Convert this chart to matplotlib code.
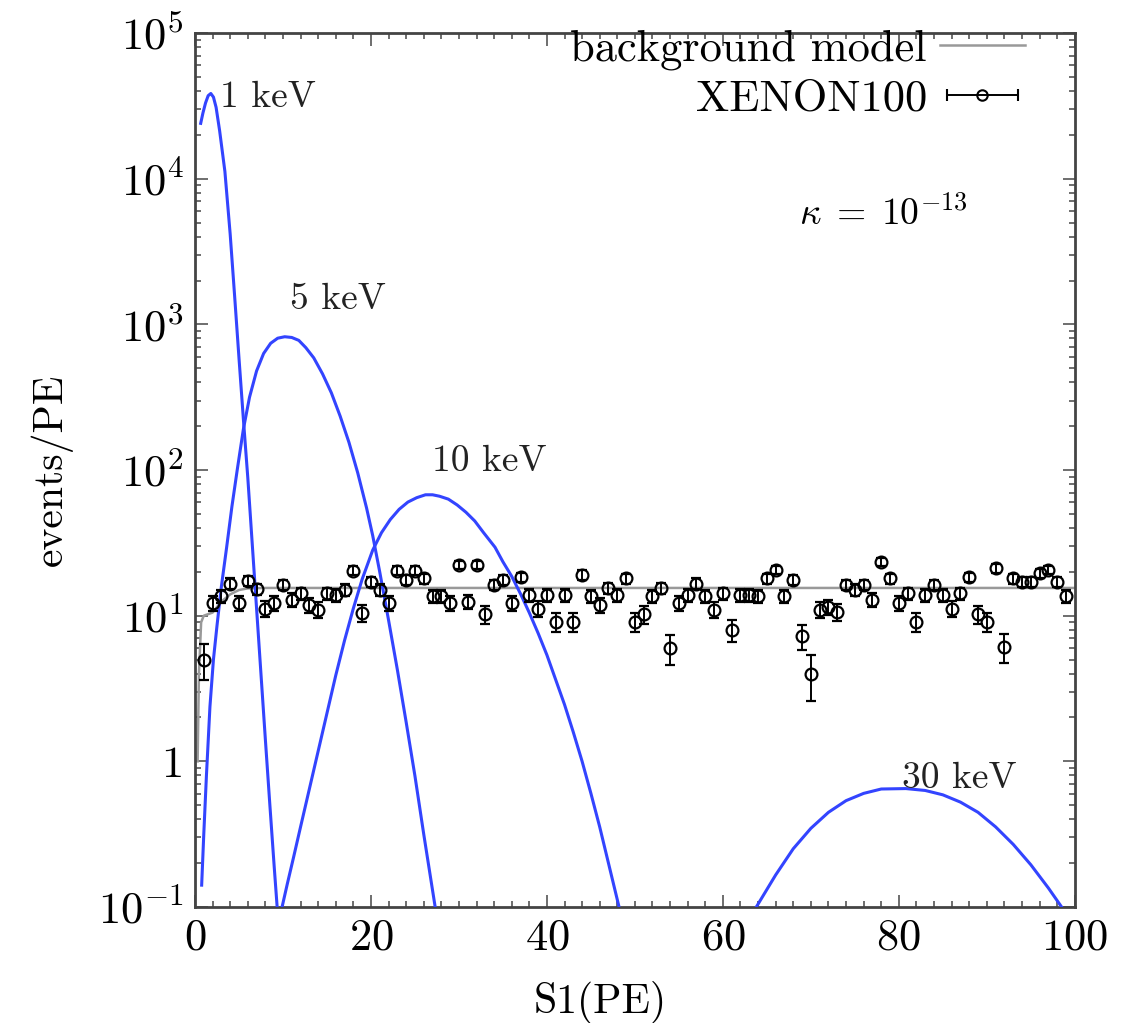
import matplotlib
matplotlib.use("Agg")
import matplotlib.pyplot as plt
import matplotlib.ticker as mticker
from matplotlib.container import ErrorbarContainer
from matplotlib.legend_handler import HandlerErrorbar
import numpy as np

plt.rcParams["font.family"] = "cmr10"
plt.rcParams["mathtext.fontset"] = "cm"
plt.rcParams["axes.formatter.use_mathtext"] = True

# XENON100 data (events/PE per 1 PE bin)
s1_pe = list(range(1, 100))
events = [
    5.0, 12.2, 13.7, 16.6, 12.2, 17.4, 15.2, 11.2, 12.2, 16.3,
    12.9, 14.2, 11.9, 11.0, 14.2, 13.9, 15.1, 20.4, 10.4, 17.1,
    15.1, 12.2, 20.4, 17.7, 20.4, 18.0, 13.7, 13.7, 12.2, 22.4,
    12.5, 22.4, 10.2, 16.3, 17.7, 12.2, 18.3, 13.9, 11.2, 13.9,
    9.1, 13.9, 9.1, 19.1, 13.7, 11.9, 15.4, 13.9, 18.0, 9.1,
    10.2, 13.7, 15.4, 6.0, 12.2, 13.9, 16.6, 13.7, 11.0, 14.2,
    8.0, 13.9, 13.9, 13.7, 18.0, 20.7, 13.7, 17.7, 7.2, 4.0,
    11.0, 11.5, 10.6, 16.3, 15.1, 16.3, 12.9, 23.5, 18.0, 12.2,
    14.2, 9.1, 13.9, 16.3, 13.9, 11.2, 14.2, 18.3, 10.2, 9.1,
    21.1, 6.1, 18.0, 17.1, 17.1, 19.5, 20.7, 17.1, 13.7,
]
events_err = 1.4

# background model
bg_x = [0.3, 0.45, 0.7, 1.0, 2.0, 3.0, 4.0, 5.0, 6.0, 8.0, 100.0]
bg_y = [1.0, 4.0, 9.0, 10.0, 10.5, 12.5, 14.0, 15.0, 15.4, 15.5, 15.5]

# signal spectra (log10 of events/PE)
kev1_x = [0.65, 0.9, 1.2, 1.5, 1.8, 2.1, 2.4, 2.8, 3.4, 4.0, 4.5, 5.0, 5.5,
          6.0, 6.5, 7.0, 7.5, 8.0, 8.5, 9.0, 9.4]
kev1_log = [4.38, 4.45, 4.52, 4.57, 4.585, 4.56, 4.49, 4.33, 4.05, 3.62, 3.2, 2.77, 2.35,
            1.95, 1.5, 1.05, 0.6, 0.15, -0.29, -0.72, -1.05]

kev5_x = [0.76, 1.0, 1.3, 1.7, 2.1, 2.5, 3.0, 3.6, 4.2, 4.8, 5.5, 6.2, 7.0, 7.8,
          8.6, 9.4, 10.2, 11.0, 11.8, 12.6, 13.5, 14.5, 15.5, 16.5, 17.5, 18.5,
          19.5, 20.2, 21.0, 22.0, 23.0, 24.0, 25.0, 26.0, 27.3]
kev5_log = [-0.85, -0.5, -0.1, 0.375, 0.7, 0.93, 1.2, 1.47, 1.75, 2.0, 2.28, 2.5, 2.68, 2.8,
            2.87, 2.905, 2.915, 2.91, 2.89, 2.84, 2.77, 2.66, 2.53, 2.37, 2.19, 1.98,
            1.74, 1.55, 1.3, 0.97, 0.63, 0.27, -0.1, -0.5, -1.0]

kev10_x = [9.9, 10.5, 11.2, 12.0, 13.0, 14.0, 15.0, 16.0, 17.0, 18.0, 19.0, 20.2,
           21.2, 22.2, 23.2, 24.2, 25.2, 26.2, 27.0, 27.8, 28.8, 29.8, 30.8, 31.8,
           32.8, 34.1, 35.0, 36.0, 37.0, 38.0, 39.0, 40.0, 41.0, 42.0, 43.0, 44.0,
           45.0, 46.0, 47.0, 48.2]
kev10_log = [-1.0, -0.84, -0.66, -0.45, -0.19, 0.07, 0.33, 0.59, 0.83, 1.05, 1.25, 1.45,
             1.57, 1.66, 1.73, 1.78, 1.81, 1.83, 1.83, 1.82, 1.8, 1.76, 1.71, 1.65,
             1.57, 1.47, 1.37, 1.27, 1.15, 1.02, 0.88, 0.73, 0.56, 0.39, 0.2, 0.0,
             -0.22, -0.45, -0.7, -1.0]

kev30_x = [63.8, 66.0, 68.0, 70.0, 72.0, 74.0, 76.0, 78.0, 80.8, 83.0, 85.0, 87.0,
           89.0, 91.0, 93.0, 95.0, 97.0, 98.5]
kev30_log = [-1.0, -0.78, -0.6, -0.46, -0.35, -0.27, -0.22, -0.19, -0.187, -0.2, -0.23, -0.28,
             -0.35, -0.45, -0.57, -0.71, -0.87, -1.0]

spectra = [
    (kev1_x, kev1_log, "1 keV", (2.8, 10 ** 4.56)),
    (kev5_x, kev5_log, "5 keV", (10.8, 10 ** 3.17)),
    (kev10_x, kev10_log, "10 keV", (26.9, 10 ** 2.06)),
    (kev30_x, kev30_log, "30 keV", (80.4, 10 ** -0.12)),
]

fig = plt.figure(figsize=(11.29, 10.23), dpi=100)
ax = fig.add_axes([0.1727, 0.1134, 0.7793, 0.8543])

blue = "#3344ff"
for xs, logs, label, pos in spectra:
    ax.plot(xs, 10 ** np.array(logs), color=blue, lw=2.2, zorder=3)
    ax.text(pos[0], pos[1], label, fontsize=27, va="center", ha="left", color="#222222")

ax.plot(bg_x, bg_y, color="#999999", lw=1.8, zorder=2)
ax.errorbar(s1_pe, events, yerr=events_err, fmt="o", mfc="none", mec="black",
            ms=8.5, mew=1.6, ecolor="black", elinewidth=1.4, capsize=3.6,
            capthick=1.4, zorder=4)

# legend handles (gnuplot style: horizontal error bar sample)
bg_handle, = ax.plot([], [], color="#999999", lw=1.8, label="background model")
data_handle = ax.errorbar([np.nan], [np.nan], xerr=[1.0], fmt="o", mfc="none",
                          mec="black", ms=7.5, mew=1.5, ecolor="black",
                          elinewidth=1.4, capsize=4, capthick=1.4, label="XENON100")
ax.legend(handles=[bg_handle, data_handle], loc="upper right", frameon=False,
          markerfirst=False, fontsize=32, handlelength=1.9, handletextpad=0.3,
          borderpad=0.0, borderaxespad=0.0, labelspacing=0.2,
          bbox_to_anchor=(0.943, 1.004),
          handler_map={ErrorbarContainer: HandlerErrorbar(xerr_size=0.8)})

ax.text(68.7, 10 ** 3.76, r"$\kappa\;=\;10^{-13}$", fontsize=27, va="center", ha="left")

ax.set_xlim(0, 100)
ax.set_yscale("log")
ax.set_ylim(0.1, 1e5)

ytick_vals = [0.1, 1, 10, 100, 1e3, 1e4, 1e5]
ytick_labels = [r"$10^{-1}$", "1", r"$10^{1}$", r"$10^{2}$", r"$10^{3}$", r"$10^{4}$", r"$10^{5}$"]
ax.yaxis.set_major_locator(mticker.FixedLocator(ytick_vals))
ax.yaxis.set_major_formatter(mticker.FixedFormatter(ytick_labels))
ax.yaxis.set_minor_locator(mticker.LogLocator(base=10, subs=np.arange(2, 10), numticks=20))
ax.yaxis.set_minor_formatter(mticker.NullFormatter())

ax.xaxis.set_major_locator(mticker.MultipleLocator(20))
ax.xaxis.set_minor_locator(mticker.MultipleLocator(2))

ax.tick_params(which="both", direction="in", top=True, right=True, labelsize=32,
               color="#555555", width=1.2)
ax.tick_params(which="major", length=9, pad=8)
ax.tick_params(which="minor", length=4.5)
for sp in ax.spines.values():
    sp.set_linewidth(2.0)
    sp.set_color("#444444")

ax.set_xlabel("S1(PE)", fontsize=30)
ax.xaxis.set_label_coords(0.46, -0.085)
ax.set_ylabel("events/PE", fontsize=30, labelpad=18)

fig.savefig("out.png", dpi=100)
